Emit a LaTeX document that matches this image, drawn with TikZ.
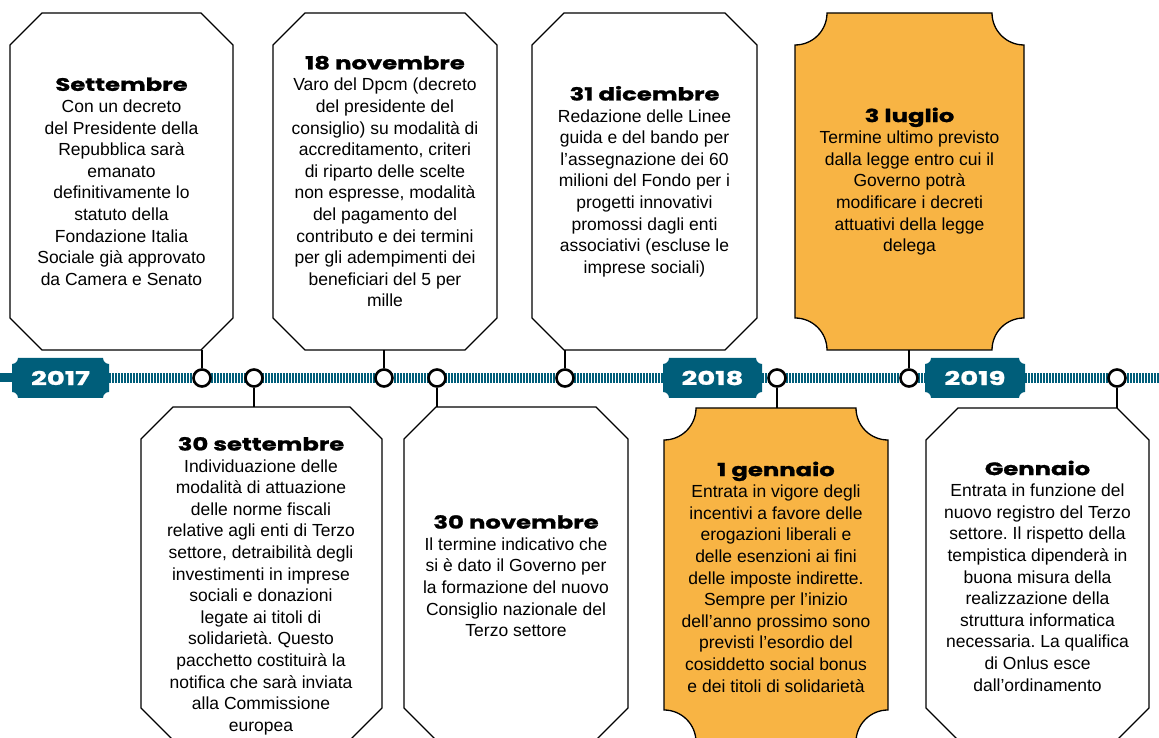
\documentclass[tikz,border=0pt]{standalone}
\usepackage{fontspec}
\setmainfont{Liberation Sans}
\newfontfamily\titlefont{Poppins}[FakeStretch=1.35, FakeBold=1.2]
\newfontfamily\yearfont{Poppins}[FakeStretch=1.45, FakeBold=1.2]
\definecolor{petrol}{RGB}{0,94,122}
\definecolor{apricot}{RGB}{248,180,68}
\frenchspacing
\tikzset{
  boxline/.style = {draw=black, line width=1.3pt},
  note/.style = {align=center, inner sep=0pt,
    font=\fontsize{17.5}{21.6}\selectfont},
  dot/.style = {circle, draw=black, line width=2.6pt, fill=white,
    minimum size=17pt, inner sep=0pt},
  link/.style = {draw=black, line width=1.4pt},
  ticks/.style = {draw=petrol, line width=9.5pt, dash pattern=on 1.5pt off 1.5pt},
  yearlbl/.style = {inner sep=0pt, text=white,
    font=\yearfont\bfseries\fontsize{19}{20}\selectfont}
}
\newcommand\ttl[1]{{\titlefont\bfseries\fontsize{18}{21.6}\selectfont #1}}
% x1, y bottom, x2, y top
\newcommand\cutbox[4]{\draw[boxline] (#1+32,#4) -- (#3-32,#4) -- (#3,#4-32)
  -- (#3,#2+32) -- (#3-32,#2) -- (#1+32,#2) -- (#1,#2+32) -- (#1,#4-32) -- cycle;}
% style, x1, y bottom, x2, y top, radius
\newcommand\notchbox[6]{\path[#1] (#2+#6,#5) -- (#4-#6,#5)
  arc[start angle=180, end angle=270, radius=#6] -- (#4,#3+#6)
  arc[start angle=90, end angle=180, radius=#6] -- (#2+#6,#3)
  arc[start angle=0, end angle=90, radius=#6] -- (#2,#5-#6)
  arc[start angle=270, end angle=360, radius=#6] -- cycle;}

\begin{document}
\begin{tikzpicture}[x=1pt,y=1pt]
\useasboundingbox (0,0) rectangle (1159,738);
\clip (0,0) rectangle (1159,738);

% timeline
\fill[petrol] (0,356) rectangle (14,365);
\draw[ticks] (109,360) -- (663,360);
\draw[ticks] (762,360) -- (925,360);
\draw[ticks] (1025,360) -- (1159,360);

\notchbox{fill=petrol}{12}{340}{109}{380}{6}
\notchbox{fill=petrol}{663}{340}{762}{380}{6}
\notchbox{fill=petrol}{925}{340}{1025}{380}{6}
\node[yearlbl] (y17) at (60.5,360) {2017};
\node[yearlbl] (y18) at (712.5,360) {2018};
\node[yearlbl] (y19) at (975,360) {2019};

% boxes
\cutbox{10}{388}{233}{725}
\cutbox{273}{388}{497}{725}
\cutbox{532}{388}{757}{725}
\notchbox{boxline, fill=apricot}{795}{388}{1024}{725}{32}
\cutbox{141}{-2}{382}{331}
\cutbox{404}{-2}{628}{331}
\notchbox{boxline, fill=apricot}{664}{-4}{888}{330}{32}
\cutbox{926}{-2}{1149}{330}

% dots and links
\node[dot] (dsett) at (202,360) {};
\node[dot] (dsett30) at (254,360) {};
\node[dot] (dnov18) at (384,360) {};
\node[dot] (dnov30) at (437,360) {};
\node[dot] (ddic31) at (565,360) {};
\node[dot] (dgen1) at (777,360) {};
\node[dot] (dlug3) at (909,360) {};
\node[dot] (dgenn) at (1117,360) {};
\coordinate (esett) at (202,388);
\coordinate (esett30) at (254,331);
\coordinate (enov18) at (384,388);
\coordinate (enov30) at (437,331);
\coordinate (edic31) at (565,388);
\coordinate (egen1) at (777,330);
\coordinate (elug3) at (909,388);
\coordinate (egenn) at (1117,330);
\foreach \n in {sett,sett30,nov18,nov30,dic31,gen1,lug3,genn}
  \draw[link] (d\n) -- (e\n);

% texts
\node[note] (sett) at (121.5,556.5) {\ttl{Settembre}\\ Con un decreto\\
  del Presidente della\\ Repubblica sarà\\ emanato\\ definitivamente lo\\
  statuto della\\ Fondazione Italia\\ Sociale già approvato\\ da Camera e Senato};
\node[note] (nov18) at (385,556.5) {\ttl{18 novembre}\\ Varo del Dpcm (decreto\\
  del presidente del\\ consiglio) su modalità di\\ accreditamento, criteri\\
  di riparto delle scelte\\ non espresse, modalità\\ del pagamento del\\
  contributo e dei termini\\ per gli adempimenti dei\\ beneficiari del 5 per\\ mille};
\node[note] (dic31) at (644.5,556.5) {\ttl{31 dicembre}\\ Redazione delle Linee\\
  guida e del bando per\\ l’assegnazione dei 60\\ milioni del Fondo per i\\
  progetti innovativi\\ promossi dagli enti\\ associativi (escluse le\\ imprese sociali)};
\node[note] (lug3) at (909.5,556.5) {\ttl{3 luglio}\\ Termine ultimo previsto\\
  dalla legge entro cui il\\ Governo potrà\\ modificare i decreti\\
  attuativi della legge\\ delega};
\node[note] (sett30) at (261,152) {\ttl{30 settembre}\\ Individuazione delle\\
  modalità di attuazione\\ delle norme fiscali\\ relative agli enti di Terzo\\
  settore, detraibilità degli\\ investimenti in imprese\\ sociali e donazioni\\
  legate ai titoli di\\ solidarietà. Questo\\ pacchetto costituirà la\\
  notifica che sarà inviata\\ alla Commissione\\ europea};
\node[note] (nov30) at (516,162) {\ttl{30 novembre}\\ Il termine indicativo che\\
  si è dato il Governo per\\ la formazione del nuovo\\ Consiglio nazionale del\\
  Terzo settore};
\node[note] (gen1) at (776,161) {\ttl{1 gennaio}\\ Entrata in vigore degli\\
  incentivi a favore delle\\ erogazioni liberali e\\ delle esenzioni ai fini\\
  delle imposte indirette.\\ Sempre per l’inizio\\ dell’anno prossimo sono\\
  previsti l’esordio del\\ cosiddetto social bonus\\ e dei titoli di solidarietà};
\node[note] (genn) at (1037.5,162) {\ttl{Gennaio}\\ Entrata in funzione del\\
  nuovo registro del Terzo\\ settore. Il rispetto della\\ tempistica dipenderà in\\
  buona misura della\\ realizzazione della\\ struttura informatica\\
  necessaria. La qualifica\\ di Onlus esce\\ dall’ordinamento};
\end{tikzpicture}
\end{document}
